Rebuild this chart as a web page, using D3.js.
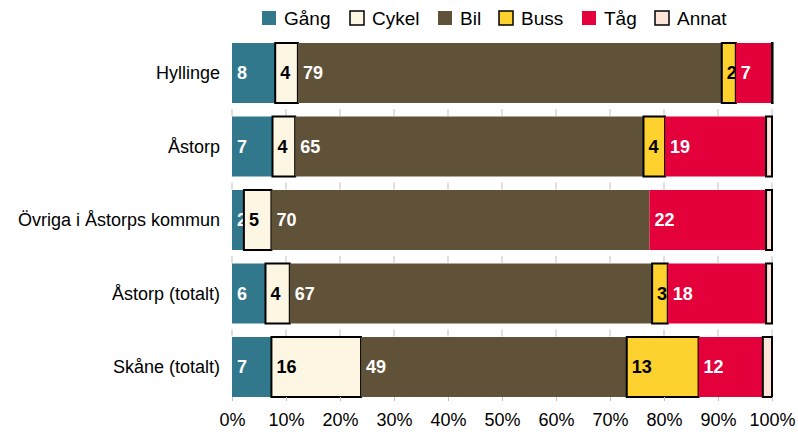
<!DOCTYPE html>
<html>
<head>
<meta charset="utf-8">
<script src="https://cdn.jsdelivr.net/npm/d3@7"></script>
<style>
  body { margin: 0; background: #fff; }
  svg { font-family: "Liberation Sans", Arial, sans-serif; }
</style>
</head>
<body>
<div id="Graph"></div>
<script>
// categories and modes
const categories = ["Hyllinge", "Åstorp", "Övriga i Åstorps kommun", "Åstorp (totalt)", "Skåne (totalt)"];
const modes = ["Gång", "Cykel", "Bil", "Buss", "Tåg", "Annat"];

// share per mode (%); labels are rounded values
const gang  = [8.0, 7.5, 2.2, 6.2, 7.3];
const cykel = [4.2, 4.2, 5.1, 4.5, 16.6];
const bil   = [78.5, 64.5, 70.0, 67.1, 49.2];
const buss  = [2.6, 4.0, 0, 2.9, 13.3];
const tag   = [6.7, 18.7, 21.6, 18.2, 11.9];
const annat = [0.1, 1.1, 1.1, 1.1, 1.7];
const labels = [
  [8, 4, 79, 2, 7, null],
  [7, 4, 65, 4, 19, null],
  [2, 5, 70, null, 22, null],
  [6, 4, 67, 3, 18, null],
  [7, 16, 49, 13, 12, null]
];
const tickValues = d3.range(0, 1.01, 0.1);

const colors  = ["#31788c", "#fdf6e3", "#605238", "#fdd12e", "#e4003a", "#fde4d8"];
const strokes = [null, "#000", null, "#000", null, "#000"];
const textCol = ["#fff", "#000", "#fff", "#000", "#fff", "#000"];

const width = 798, height = 434;
const svg = d3.select("#Graph").append("svg")
  .attr("width", width)
  .attr("height", height);

const table = categories.map((c, i) => {
  const row = { cat: c };
  [gang, cykel, bil, buss, tag, annat].forEach((arr, j) => row[modes[j]] = arr[i]);
  return row;
});
const stacked = d3.stack().keys(modes)(table);

const x = d3.scaleLinear().domain([0, 100]).range([232, 772]);
const y = d3.scaleBand().domain(categories).range([43, 397])
  .paddingInner(13.5 / 73.5).paddingOuter(0);

// small grey gridline bits in the gaps between bars
const gaps = categories.slice(0, -1);
svg.append("g").selectAll("g")
  .data(gaps)
  .join("g")
  .selectAll("line")
  .data(d => tickValues.map(t => ({ cat: d, t: t })))
  .join("line")
  .attr("x1", d => x(d.t * 100)).attr("x2", d => x(d.t * 100))
  .attr("y1", d => y(d.cat) + y.bandwidth() + 6)
  .attr("y2", d => y(d.cat) + y.bandwidth() + 13)
  .attr("stroke", "#bfbfbf")
  .attr("stroke-width", 1);

// bars
const layer = svg.append("g").selectAll("g")
  .data(stacked)
  .join("g")
  .attr("fill", (d, i) => colors[i]);

layer.selectAll("rect")
  .data((d, i) => d.map(v => ({ v: v, k: i })))
  .join("rect")
  .attr("x", d => x(d.v[0]))
  .attr("y", d => y(d.v.data.cat))
  .attr("width", d => Math.max(0, x(d.v[1]) - x(d.v[0])))
  .attr("height", y.bandwidth())
  .attr("stroke", d => strokes[d.k] && (d.v[1] - d.v[0]) > 0 ? strokes[d.k] : "none")
  .attr("stroke-width", 2);

// value labels
layer.selectAll("text")
  .data((d, i) => d.map((v, r) => ({ v: v, k: i, lab: labels[r][i] })).filter(d => d.lab != null))
  .join("text")
  .attr("x", d => x(d.v[0]) + 5)
  .attr("y", d => y(d.v.data.cat) + y.bandwidth() / 2)
  .attr("dy", "0.36em")
  .attr("fill", d => textCol[d.k])
  .attr("font-size", 18)
  .attr("font-weight", "bold")
  .text(d => d.lab);

// category labels
svg.append("g").selectAll("text")
  .data(categories)
  .join("text")
  .attr("x", 220)
  .attr("y", d => y(d) + y.bandwidth() / 2)
  .attr("dy", "0.36em")
  .attr("text-anchor", "end")
  .attr("font-size", 18)
  .attr("fill", "#000")
  .text(d => d);

// x axis
const xAxis = svg.append("g")
  .attr("transform", "translate(0,397)")
  .call(d3.axisBottom(x)
    .tickValues(tickValues.map(t => t * 100))
    .tickSize(4)
    .tickPadding(12)
    .tickFormat(d => Math.round(d) + "%"));
xAxis.select(".domain").remove();
xAxis.selectAll(".tick line").attr("stroke", "#bfbfbf");
xAxis.selectAll(".tick text")
  .attr("font-size", 18)
  .attr("fill", "#000")
  .attr("font-family", "Liberation Sans, Arial, sans-serif");

// legend
const legendX = [262, 350, 438, 499, 582, 655];
const legend = svg.append("g").selectAll("g")
  .data(modes)
  .join("g")
  .attr("transform", (d, i) => `translate(${legendX[i]},11)`);
legend.append("rect")
  .attr("width", 14).attr("height", 14)
  .attr("fill", (d, i) => colors[i])
  .attr("stroke", (d, i) => strokes[i] || "none")
  .attr("stroke-width", 1.5);
legend.append("text")
  .attr("x", 22)
  .attr("y", 7)
  .attr("dy", "0.36em")
  .attr("font-size", 19)
  .attr("fill", "#000")
  .text(d => d);
</script>
</body>
</html>
